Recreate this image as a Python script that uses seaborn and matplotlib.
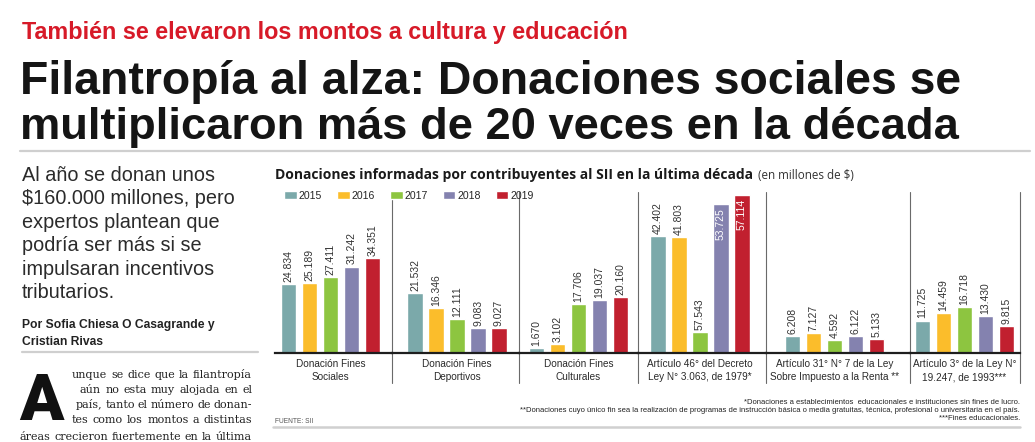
import matplotlib
matplotlib.use("Agg")
import matplotlib.pyplot as plt
from matplotlib.lines import Line2D
import seaborn as sns
import pandas as pd

# 数据 (millones de $)
categorias = [
    "Donación Fines\nSociales",
    "Donación Fines\nDeportivos",
    "Donación Fines\nCulturales",
    "Artículo 46° del Decreto\nLey N° 3.063, de 1979*",
    "Artículo 31° N° 7 de la Ley\nSobre Impuesto a la Renta **",
    "Artículo 3° de la Ley N°\n19.247, de 1993***",
]
anios = ["2015", "2016", "2017", "2018", "2019"]
v2015 = [24834, 21532, 1670, 42402, 6208, 11725]
v2016 = [25189, 16346, 3102, 41803, 7127, 14459]
v2017 = [27411, 12111, 17706, 7543, 4592, 16718]
v2018 = [31242, 9083, 19037, 53725, 6122, 13430]
v2019 = [34351, 9027, 20160, 57114, 5133, 9815]
# el rótulo impreso sobre la barra corta de 2017 (Artículo 46) dice 57.543
etiqueta_fija = {(3, "2017"): "57.543"}
colores = ["#7BA9AA", "#FBBD2B", "#8DC540", "#8482AF", "#C1202F"]

notas = [
    "*Donaciones a establecimientos  educacionales e instituciones sin fines de lucro.",
    "**Donaciones cuyo único fin sea la realización de programas de instrucción básica o media gratuitas, técnica, profesional o universitaria en el país.",
    "***Fines educacionales.",
]
bajada = [
    "Al año se donan unos",
    "$160.000 millones, pero",
    "expertos plantean que",
    "podría ser más si se",
    "impulsaran incentivos",
    "tributarios.",
]
cuerpo = [
    "unque se dice que la filantropía",
    "aún no esta muy alojada en el",
    "país, tanto el número de donan-",
    "tes como los montos a distintas",
    "áreas crecieron fuertemente en la última",
]

filas = []
for anio, vals in zip(anios, [v2015, v2016, v2017, v2018, v2019]):
    for cat, v in zip(categorias, vals):
        filas.append({"categoria": cat, "anio": anio, "monto": v})
df = pd.DataFrame(filas)

sns.set_theme(style="white")
plt.rcParams["font.family"] = ["Liberation Sans", "DejaVu Sans"]

W, H = 1035, 442
fig = plt.figure(figsize=(W / 100, H / 100), dpi=100)
fig.patch.set_facecolor("white")
renderer = fig.canvas.get_renderer()


def fx(x):
    return x / W


def fy(y):
    return 1 - y / H


def ancho(t):
    return t.get_window_extent(renderer).width


def texto_ajustado(x, y, s, ancho_px, **kw):
    t = fig.text(fx(x), fy(y), s, **kw)
    t.set_fontsize(t.get_fontsize() * ancho_px / ancho(t))
    return t


def regla(x0, x1, y, color="#cfcfcf", lw=1.6):
    fig.add_artist(Line2D([fx(x0), fx(x1)], [fy(y), fy(y)], color=color, lw=lw))


# encabezado
texto_ajustado(22, 39, "También se elevaron los montos a cultura y educación", 608,
               color="#D71A28", fontweight="bold", fontsize=15)
texto_ajustado(20, 94, "Filantropía al alza: Donaciones sociales se", 942,
               color="#151515", fontweight="bold", fontsize=36)
texto_ajustado(20, 139, "multiplicaron más de 20 veces en la década", 938,
               color="#151515", fontweight="bold", fontsize=36)
regla(20, 1030, 151)

# columna izquierda
t = texto_ajustado(22, 181 + 23.4, bajada[1], 214, color="#2b2b2b", fontsize=14)
fs_bajada = t.get_fontsize()
for k, linea in enumerate(bajada):
    if k != 1:
        fig.text(fx(22), fy(181 + 23.4 * k), linea, color="#2b2b2b", fontsize=fs_bajada)

t = texto_ajustado(22, 328, "Por Sofia Chiesa O Casagrande y", 193,
                   color="#222222", fontweight="bold", fontsize=8)
fig.text(fx(22), fy(345), "Cristian Rivas", color="#222222", fontweight="bold",
         fontsize=t.get_fontsize())
regla(22, 258, 352)

fig.text(fx(19), fy(420), "A", fontsize=47, fontweight="heavy", color="#111111",
         family=["Roboto", "Liberation Sans"])

inicio = [72, 80, 76, 72, 20]
base_cuerpo = [378, 393, 408, 423, 440]
for x0, yb, linea in zip(inicio, base_cuerpo, cuerpo):
    palabras = linea.split()
    ts = [fig.text(0, fy(yb), p, fontsize=8.0, color="#222222",
                   family=["DejaVu Serif"]) for p in palabras]
    anchos = [ancho(p) for p in ts]
    hueco = max((252 - x0 - sum(anchos)) / (len(palabras) - 1), 2.5)
    x = x0
    for p, a in zip(ts, anchos):
        p.set_x(fx(x))
        x += a + hueco

# grafico
fuente_graf = ["Liberation Sans Narrow", "Liberation Sans", "DejaVu Sans"]
bordes = [275, 392, 519, 638, 766, 910, 1020]
centros = [330.5, 457, 578.5, 700, 834.5, 964.5]
y_top, y_base = 192, 353
unidad = 131.25  # px por unidad de categoria (ancho 0.8 -> 105 px)
ymax = 58200

ejes = []
for i, cat in enumerate(categorias):
    izq, der = bordes[i], bordes[i + 1]
    ax = fig.add_axes([fx(izq), fy(y_base), (der - izq) / W, (y_base - y_top) / H])
    ax.set_facecolor("none")
    sub = df[df["categoria"] == cat]
    sns.barplot(data=sub, x="categoria", y="monto", hue="anio", hue_order=anios,
                palette=colores, saturation=1, width=0.8, gap=0.26,
                errorbar=None, legend=False, ax=ax)
    ax.set_xlim((izq - centros[i]) / unidad, (der - centros[i]) / unidad)
    ax.set_ylim(0, ymax)
    ax.set_xlabel("")
    ax.set_ylabel("")
    ax.set_yticks([])
    ax.set_xticks([0])
    ax.set_xticklabels([cat], fontsize=7.2, color="#2a2a2a", linespacing=1.4,
                       family=fuente_graf)
    ax.tick_params(axis="x", length=0, pad=4.5)
    for lado in ["top", "left", "right"]:
        ax.spines[lado].set_visible(False)
    ax.spines["bottom"].set_color("#1e1e1e")
    ax.spines["bottom"].set_linewidth(1.6)
    ax.plot([1, 1], [-0.186, 1], transform=ax.transAxes, color="#6a6a6a", lw=0.8,
            clip_on=False)

    for cont, anio in zip(ax.containers, anios):
        for barra in cont:
            h = barra.get_height()
            xc = barra.get_x() + barra.get_width() / 2
            txt = etiqueta_fija.get((i, anio), f"{h:,.0f}".replace(",", "."))
            if ymax - h < 11500:
                ax.annotate(txt, (xc, h), xytext=(0, -3), textcoords="offset points",
                            rotation=90, ha="center", va="top", fontsize=7.5,
                            color="white", family=fuente_graf)
            else:
                ax.annotate(txt, (xc, h), xytext=(0, 1.5), textcoords="offset points",
                            rotation=90, ha="center", va="bottom", fontsize=7.5,
                            color="#333333", family=fuente_graf)
    ejes.append(ax)

fig.legend(handles=[c.patches[0] for c in ejes[0].containers], labels=anios,
           loc="upper left", bbox_to_anchor=(fx(284), fy(191)), ncol=5, frameon=False,
           prop={"family": fuente_graf, "size": 7.6}, handlelength=1.2, handleheight=0.8,
           handletextpad=0.2, columnspacing=1.4, borderaxespad=0, borderpad=0)

t = texto_ajustado(275, 179, "Donaciones informadas por contribuyentes al SII en la última década",
                   477, fontweight="bold", color="#1a1a1a", fontsize=9,
                   family=["Open Sans", "Liberation Sans"])
x_fin = 275 + ancho(t) + 5
texto_ajustado(x_fin, 179, "(en millones de $)", 95, color="#333333", fontsize=6.5,
               family=["Open Sans", "Liberation Sans"])

t = texto_ajustado(1020, 412, notas[1], 505, ha="right", color="#222222", fontsize=5,
                   family=fuente_graf)
fs_notas = t.get_fontsize()
fig.text(fx(1020), fy(404), notas[0], ha="right", color="#222222", fontsize=fs_notas,
         family=fuente_graf)
fig.text(fx(1020), fy(420), notas[2], ha="right", color="#222222", fontsize=fs_notas,
         family=fuente_graf)
fig.text(fx(275), fy(423), "FUENTE: SII", color="#555555", fontsize=4.8, family=fuente_graf)
regla(273, 1020, 427, color="#d0d0d0", lw=1.8)

fig.savefig("out.png", dpi=100, facecolor="white")
plt.close(fig)
